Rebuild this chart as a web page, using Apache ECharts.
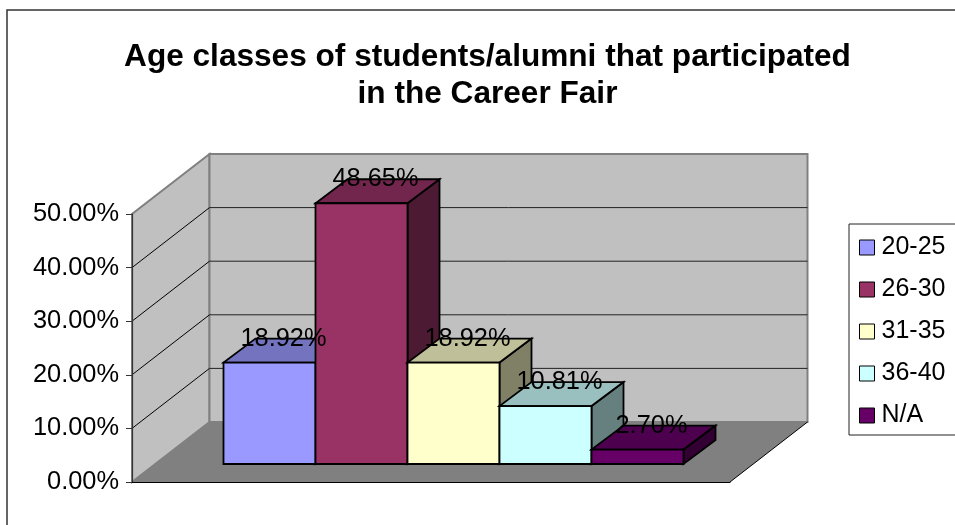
<!DOCTYPE html>
<html>
<head>
<meta charset="utf-8">
<style>html,body{margin:0;padding:0;background:#fff}#c{width:955px;height:525px}</style>
<script src="https://cdn.jsdelivr.net/npm/echarts@6/dist/echarts.min.js"></script>
</head>
<body>
<div id="c"></div>
<script>
const titleText = 'Age classes of students/alumni that participated\nin the Career Fair';
const categories = [''];
const seriesNames = ['20-25', '26-30', '31-35', '36-40', 'N/A'];
const seriesValues = [18.92, 48.65, 18.92, 10.81, 2.70];
const seriesColors = ['#9999FF', '#993366', '#FFFFCC', '#CCFFFF', '#660066'];
const topColors = ['#7373BF', '#73264D', '#BFBF99', '#99BFBF', '#4D004D'];
const sideColors = ['#4D4D80', '#4D1A33', '#808066', '#668080', '#330033'];
const yTicks = [0, 10, 20, 30, 40, 50];

const FONT = '"Liberation Sans", Arial, sans-serif';
const WALL_DX = 77.5, WALL_DY = 60;      // full 3D depth of the box
const BAR_DX = 32, BAR_DY = 24;          // 3D depth of a bar
const BAR_SHIFT_X = 22.5, BAR_SHIFT_Y = 18; // bars stand inset from the front
const GAP_BARS = 1.5;                    // gap width 150 %

function poly(points, fill, stroke, lw, z2) {
  return { type: 'polygon', shape: { points }, z2: z2 || 0,
    style: { fill, stroke: stroke || null, lineWidth: lw || 0, lineJoin: 'miter' } };
}
function line(a, b, stroke, lw, z2) {
  return { type: 'line', shape: { x1: a[0], y1: a[1], x2: b[0], y2: b[1] }, z2: z2 || 0,
    style: { stroke, lineWidth: lw } };
}

function renderWalls(params, api) {
  const cs = params.coordSys;
  const L = cs.x, R = cs.x + cs.width;
  const y0 = api.coord([0, yTicks[0]])[1];
  const yT = api.coord([0, yTicks[yTicks.length - 1]])[1];
  const c = [];
  c.push(poly([[L, y0], [L, yT], [L + WALL_DX, yT - WALL_DY], [L + WALL_DX, y0 - WALL_DY]], '#C0C0C0', '#808080', 2, 1));
  c.push(poly([[L + WALL_DX, y0 - WALL_DY], [L + WALL_DX, yT - WALL_DY], [R + WALL_DX, yT - WALL_DY], [R + WALL_DX, y0 - WALL_DY]], '#C0C0C0', '#808080', 2, 1));
  c.push(poly([[L, y0], [L + WALL_DX, y0 - WALL_DY], [R + WALL_DX, y0 - WALL_DY], [R, y0]], '#808080', null, 0, 2));
  c.push(line([R, y0], [R + WALL_DX, y0 - WALL_DY], '#000', 1, 3));
  yTicks.slice(1, -1).forEach(t => {
    const y = api.coord([0, t])[1];
    c.push(line([L, y], [L + WALL_DX, y - WALL_DY], '#000', 1, 3));
    c.push(line([L + WALL_DX, y - WALL_DY], [R + WALL_DX, y - WALL_DY], '#222', 1, 3));
  });
  return { type: 'group', children: c };
}

function renderBar(idx) {
  return function (params, api) {
    const v = api.value(1);
    const band = api.size([1, 0])[0];
    const cx = api.coord([0, 0])[0];
    const w = band / (seriesValues.length + GAP_BARS);
    const x0 = cx - band / 2 + w * (GAP_BARS / 2 + idx) + BAR_SHIFT_X;
    const x1 = x0 + w;
    const yb = api.coord([0, 0])[1] - BAR_SHIFT_Y;
    const yt = api.coord([0, v])[1] - BAR_SHIFT_Y;
    const S = '#000', LW = 1.8;
    const Z = 10 + idx;
    const label = v.toFixed(2) + '%';
    return { type: 'group', children: [
      poly([[x1, yb], [x1, yt], [x1 + BAR_DX, yt - BAR_DY], [x1 + BAR_DX, yb - BAR_DY]], sideColors[idx], S, LW, Z),
      poly([[x0, yt], [x1, yt], [x1 + BAR_DX, yt - BAR_DY], [x0 + BAR_DX, yt - BAR_DY]], topColors[idx], S, LW, Z),
      poly([[x0, yb], [x1, yb], [x1, yt], [x0, yt]], seriesColors[idx], S, LW, Z),
      { type: 'text', z2: 1000, style: {
          text: label, x: (x0 + x1) / 2 + 14, y: yt - 24,
          align: 'center', verticalAlign: 'middle',
          fill: '#000', font: '25.4px ' + FONT } }
    ] };
  };
}

const chart = echarts.init(document.getElementById('c'), null, { renderer: 'canvas' });
chart.setOption({
  animation: false,
  backgroundColor: '#fff',
  title: {
    text: titleText, left: 482.5, top: 34, textAlign: 'center',
    textStyle: { fontFamily: FONT, fontWeight: 'bold', fontSize: 31.6, lineHeight: 37, color: '#000' }
  },
  graphic: [{ type: 'rect', z: -10, silent: true,
    shape: { x: 7, y: 10, width: 1000, height: 540 }, style: { fill: 'none', stroke: '#333', lineWidth: 1.5 } }],
  legend: {
    orient: 'vertical', left: 849, top: 224, selectedMode: false,
    padding: [9, 110, 5, 10], itemGap: 13, itemWidth: 15, itemHeight: 15,
    borderColor: '#222', borderWidth: 1, backgroundColor: '#fff',
    icon: 'rect',
    textStyle: { fontFamily: FONT, fontSize: 25, color: '#000', lineHeight: 28, padding: [1, 0, 0, 2] },
    itemStyle: { borderColor: '#000', borderWidth: 1 },
    data: seriesNames
  },
  grid: { left: 132, top: 214, width: 598, height: 268 },
  xAxis: {
    type: 'category', data: categories,
    axisLine: { lineStyle: { color: '#000', width: 1 } },
    axisTick: { show: false }, axisLabel: { show: false }, z: 3
  },
  yAxis: {
    type: 'value', min: yTicks[0], max: yTicks[yTicks.length - 1], interval: 10, z: 3,
    axisLine: { show: true, lineStyle: { color: '#333', width: 1.2 } },
    axisTick: { show: true, length: 6, lineStyle: { color: '#333', width: 1 } },
    splitLine: { show: false },
    axisLabel: { fontFamily: FONT, fontSize: 25.4, color: '#000', margin: 13, padding: [5, 0, 0, 0],
      formatter: v => v.toFixed(2) + '%' }
  },
  series: [
    { type: 'custom', name: 'walls', silent: true, z: 2, encode: { x: 0, y: 1 },
      data: [[0, 0]], renderItem: renderWalls }
  ].concat(seriesNames.map((name, i) => ({
    type: 'custom', name, z: 2, encode: { x: 0, y: 1 },
    itemStyle: { color: seriesColors[i], borderColor: '#000', borderWidth: 1 },
    data: [[0, seriesValues[i]]], renderItem: renderBar(i)
  })))
});
</script>
</body>
</html>
